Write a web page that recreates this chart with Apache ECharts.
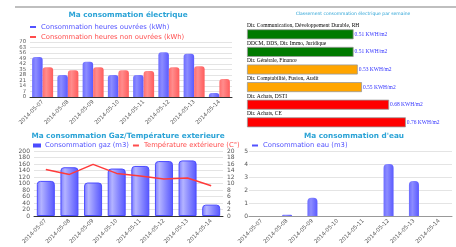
<!DOCTYPE html>
<html>
<head>
<meta charset="utf-8">
<script src="https://cdn.jsdelivr.net/npm/echarts@6/dist/echarts.min.js"></script>
<style>
  html, body { margin: 0; padding: 0; background: #fff; }
  #main { width: 456px; height: 247px; }
</style>
</head>
<body>
<div id="main"></div>
<script>
var dates = ['2014-05-07', '2014-05-08', '2014-05-09', '2014-05-10', '2014-05-11', '2014-05-12', '2014-05-13', '2014-05-14'];
var elecOpen = [51, 28, 45, 28, 28, 57, 55, 5];
var elecClosed = [38, 34, 38, 34, 33, 38, 39, 23];
var gasM3 = [108, 150, 103, 146, 154, 169, 171, 35];
var tempExt = [14.3, 12.8, 15.9, 13.1, 12.3, 11.4, 11.7, 9.3];
var waterM3 = [0, 0.1, 1.4, 0, 0, 4, 2.7, 0];
var services = ['Dir. Communication, Développement Durable, RH', 'DDCM, DDS, Dir. Immo, Juridique', 'Dir. Générale, Finance', 'Dir. Comptabilité, Fusion, Audit', 'Dir. Achats, DSTI', 'Dir. Achats, CE'];
var ratios = [0.51, 0.51, 0.53, 0.55, 0.68, 0.76];

// couleurs du classement (vert / orange / rouge)
var rankColors = ['#007a00', '#007a00', '#ffa500', '#ffa500', '#ff0000', '#ff0000'];

var SANS = 'DejaVu Sans';
var titleColor = '#2ba3d6';
var blue = '#5252ff';
var red = '#ff4d4d';

function hGrad(stops) {
  return new echarts.graphic.LinearGradient(0, 0, 1, 0, stops);
}
var blueBar = hGrad([{offset: 0, color: '#6d6dff'}, {offset: 0.35, color: '#8c8cff'}, {offset: 1, color: '#5a5aff'}]);
var redBar = hGrad([{offset: 0, color: '#ff6e6e'}, {offset: 0.35, color: '#ff8c8c'}, {offset: 1, color: '#ff5c5c'}]);
var gasBar = hGrad([{offset: 0, color: '#7a7aff'}, {offset: 0.25, color: '#b4b4ff'}, {offset: 0.65, color: '#8080ff'}, {offset: 1, color: '#5555ff'}]);

var xLabel = {fontSize: 5.5, color: '#555', rotate: 45, margin: 4, fontFamily: SANS};
var splitL = {show: true, lineStyle: {color: '#e4e4e4', width: 1}};

function yLabel(margin, size) {
  return {fontSize: size || 6, lineHeight: size || 6, color: '#555', margin: margin, fontFamily: SANS,
    showMinLabel: true, showMaxLabel: true, hideOverlap: false};
}

function catAxis(grid, lineColor) {
  return {
    type: 'category', gridIndex: grid, data: dates,
    axisLine: {lineStyle: {color: lineColor, width: 1}},
    axisTick: {alignWithLabel: true, length: 3, lineStyle: {color: lineColor}},
    axisLabel: xLabel
  };
}

var titleStyle = {fontSize: 7.3, fontWeight: 'bold', color: titleColor, fontFamily: SANS};

var option = {
  animation: false,
  textStyle: {fontFamily: SANS},
  graphic: [{
    type: 'line', shape: {x1: 15, y1: 7, x2: 456, y2: 7},
    style: {stroke: '#aaa', lineWidth: 1.5}
  }],
  title: [
    {text: 'Ma consommation électrique', left: 128, top: 12, textAlign: 'center', padding: 0, textStyle: titleStyle},
    {text: 'Ma consommation Gaz/Température exterieure', left: 128, top: 132.5, textAlign: 'center', padding: 0, textStyle: titleStyle},
    {text: 'Ma consommation d\'eau', left: 354, top: 132.5, textAlign: 'center', padding: 0, textStyle: titleStyle},
    {text: 'Classement consommation électrique par semaine', left: 353, top: 11, textAlign: 'center', padding: 0,
      textStyle: {fontSize: 4.5, fontWeight: 'normal', color: titleColor, fontFamily: SANS}}
  ],
  legend: [
    {
      orient: 'vertical', left: 30, top: 23.5, padding: 0, itemGap: 3,
      itemWidth: 6, itemHeight: 2, icon: 'rect',
      textStyle: {fontSize: 6.8, fontFamily: SANS},
      data: [
        {name: 'Consommation heures ouvrées (kWh)', itemStyle: {color: blue}, textStyle: {color: blue}},
        {name: 'Consommation heures non ouvrées (kWh)', itemStyle: {color: red}, textStyle: {color: red}}
      ]
    },
    {
      orient: 'horizontal', left: 33, top: 142, padding: 0, itemGap: 4,
      itemWidth: 6, itemHeight: 2, icon: 'rect',
      textStyle: {fontSize: 6.8, fontFamily: SANS},
      data: [
        {name: 'Consommation gaz (m3)', itemStyle: {color: blue}, textStyle: {color: blue}},
        {name: 'Température extérieure (C°)', itemStyle: {color: red}, textStyle: {color: red}}
      ]
    },
    {
      orient: 'horizontal', left: 252, top: 142, padding: 0,
      itemWidth: 6, itemHeight: 2, icon: 'rect',
      textStyle: {fontSize: 6.8, fontFamily: SANS},
      data: [
        {name: 'Consommation eau (m3)', itemStyle: {color: blue}, textStyle: {color: blue}}
      ]
    }
  ],
  grid: [
    {left: 30, top: 42, width: 202, height: 55},
    {left: 34, top: 151, width: 189, height: 65},
    {left: 249, top: 151, width: 203, height: 65},
    {left: 247, top: 25.5, width: 210, height: 105.6}
  ],
  xAxis: [
    catAxis(0, '#333'),
    catAxis(1, '#333'),
    catAxis(2, '#999'),
    {type: 'value', gridIndex: 3, min: 0, max: 1, show: false}
  ],
  yAxis: [
    {type: 'value', gridIndex: 0, min: 0, max: 70, interval: 7, axisLabel: yLabel(4, 5.3), splitLine: splitL,
      axisLine: {show: false}, axisTick: {show: false}},
    {type: 'value', gridIndex: 1, min: 0, max: 200, interval: 20, axisLabel: yLabel(4), splitLine: splitL,
      axisLine: {show: false}, axisTick: {show: false}},
    {type: 'value', gridIndex: 1, position: 'right', min: 0, max: 20, interval: 2,
      axisLabel: yLabel(4), splitLine: {show: false},
      axisLine: {show: false}, axisTick: {show: false}},
    {type: 'value', gridIndex: 2, min: 0, max: 5, interval: 1, axisLabel: yLabel(1),
      splitLine: splitL, axisLine: {show: false}, axisTick: {show: false}},
    {type: 'category', gridIndex: 3, data: services, inverse: true, show: false}
  ],
  series: [
    {
      name: 'Consommation heures ouvrées (kWh)', type: 'bar', xAxisIndex: 0, yAxisIndex: 0,
      data: elecOpen, barWidth: 10.5, barGap: '0%',
      itemStyle: {color: blueBar, borderRadius: [3, 3, 0, 0]}
    },
    {
      name: 'Consommation heures non ouvrées (kWh)', type: 'bar', xAxisIndex: 0, yAxisIndex: 0,
      data: elecClosed, barWidth: 10.5, barGap: '0%',
      itemStyle: {color: redBar, borderRadius: [3, 3, 0, 0]}
    },
    {
      name: 'Consommation gaz (m3)', type: 'bar', xAxisIndex: 1, yAxisIndex: 1,
      data: gasM3, barWidth: 18,
      itemStyle: {color: gasBar, borderColor: '#4b4bff', borderWidth: 1, borderRadius: [3, 3, 0, 0]}
    },
    {
      name: 'Température extérieure (C°)', type: 'line', xAxisIndex: 1, yAxisIndex: 2,
      data: tempExt, showSymbol: false, symbol: 'none',
      lineStyle: {color: '#ff3b3b', width: 1.5}, itemStyle: {color: '#ff3b3b'}
    },
    {
      name: 'Consommation eau (m3)', type: 'bar', xAxisIndex: 2, yAxisIndex: 3,
      data: waterM3, barWidth: 10,
      itemStyle: {color: blueBar, borderRadius: [4, 4, 0, 0]}
    },
    {
      name: 'classement', type: 'bar', xAxisIndex: 3, yAxisIndex: 4, barWidth: 10,
      data: ratios.map(function (v, i) {
        return {value: v, itemStyle: {color: rankColors[i]}};
      }),
      itemStyle: {borderColor: '#999', borderWidth: 0.8},
      label: {
        show: true, position: 'right', distance: 1,
        fontSize: 5.5, color: '#3333ff', fontFamily: 'Liberation Serif',
        formatter: function (p) { return p.value.toFixed(2) + ' KWH/m2'; }
      }
    },
    {
      name: 'classementNoms', type: 'bar', xAxisIndex: 3, yAxisIndex: 4, barWidth: 10, barGap: '-100%',
      data: ratios, itemStyle: {color: 'transparent'}, silent: true,
      label: {
        show: true, position: [0, -0.5], align: 'left', verticalAlign: 'bottom',
        fontSize: 5.5, color: '#000', fontFamily: 'Liberation Serif',
        formatter: function (p) { return p.name; }
      }
    }
  ]
};

var chart = echarts.init(document.getElementById('main'));
chart.setOption(option);
</script>
</body>
</html>
